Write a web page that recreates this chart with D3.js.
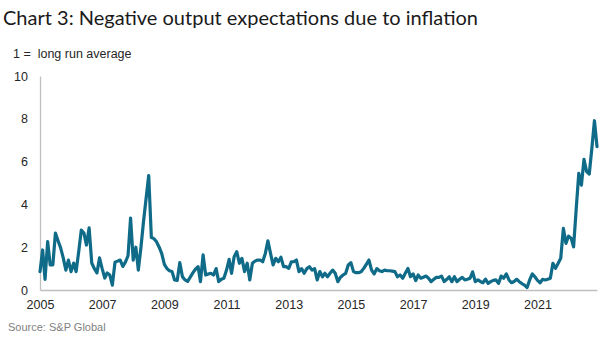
<!DOCTYPE html>
<html>
<head>
<meta charset="utf-8">
<script src="https://cdn.jsdelivr.net/npm/d3@7"></script>
<style>
  body { margin: 0; background: #fff; }
  svg { display: block; }
</style>
</head>
<body>
<svg id="chart" width="606" height="343"></svg>
<script>
// Monthly index, Jan 2005 onward (1 = long run average)
const firstMonth = [2005, 0];
const values = [
  0.86, 1.87, 0.50, 2.26, 1.17, 1.17, 2.66, 2.30, 1.96, 1.50, 0.93, 1.40,
  0.86, 1.26, 0.86, 1.80, 2.80, 2.66, 2.10, 2.90, 1.26, 1.00, 0.80, 1.50,
  1.00, 0.56, 0.80, 0.70, 0.23, 1.30, 1.35, 1.40, 1.10, 1.30, 1.60, 3.36,
  1.40, 2.00, 0.93, 2.00, 3.20, 4.30, 5.35, 2.45, 2.40, 2.25, 2.00, 1.70,
  1.20, 1.00, 0.90, 0.86, 0.47, 0.45, 1.28, 0.62, 0.47, 0.40, 0.60, 0.80,
  0.97, 1.09, 0.39, 1.64, 0.70, 0.75, 0.78, 0.70, 1.00, 0.39, 0.50, 0.55,
  0.93, 1.43, 0.78, 1.56, 1.79, 1.25, 1.48, 0.86, 1.25, 0.47, 1.25, 1.35,
  1.40, 1.40, 1.32, 1.71, 2.30, 1.71, 1.17, 1.48, 1.32, 1.53, 1.09, 1.09,
  1.01, 1.32, 1.32, 1.40, 0.86, 1.00, 0.78, 1.00, 1.09, 0.93, 1.00, 0.47,
  0.86, 0.62, 0.78, 0.62, 0.78, 0.93, 0.78, 0.39, 0.60, 0.70, 0.78, 1.17,
  1.28, 0.86, 0.81, 0.81, 0.85, 1.01, 1.20, 1.40, 0.93, 0.75, 1.00, 0.90,
  0.86, 0.93, 0.90, 0.90, 0.88, 0.86, 0.62, 0.70, 0.55, 0.78, 1.01, 0.62,
  0.75, 0.44, 0.70, 0.55, 0.60, 0.65, 0.55, 0.39, 0.50, 0.59, 0.59, 0.65,
  0.39, 0.50, 0.62, 0.39, 0.62, 0.39, 0.50, 0.59, 0.47, 0.50, 0.55, 0.85,
  0.39, 0.47, 0.40, 0.34, 0.51, 0.31, 0.39, 0.45, 0.47, 0.31, 0.65, 0.55,
  0.75, 0.47, 0.34, 0.40, 0.50, 0.39, 0.30, 0.23, 0.12, 0.47, 0.75, 0.62,
  0.45, 0.34, 0.50, 0.47, 0.50, 0.55, 1.25, 1.01, 1.25, 1.48, 2.88, 2.18,
  2.52, 2.41, 2.02, 3.80, 5.45, 4.90, 6.10, 5.53, 5.42, 6.60, 7.91, 6.70
];
const yTickValues = [0, 2, 4, 6, 8, 10];
const xTickYears = [2005, 2007, 2009, 2011, 2013, 2015, 2017, 2019, 2021];

const titleText = "Chart 3: Negative output expectations due to inflation";
const unitText = "1 =  long run average";
const sourceText = "Source: S&P Global";

const lineColor = "#0f6b88";
const axisColor = "#bfbfbf";
const labelColor = "#262626";

const svg = d3.select("#chart");

const series = values.map((v, i) => ({
  date: d3.timeMonth.offset(new Date(firstMonth[0], firstMonth[1], 1), i),
  value: v
}));

const plot = { left: 40, right: 597, top: 76, bottom: 290 };

const x = d3.scaleTime()
  .domain([series[0].date, series[series.length - 1].date])
  .range([plot.left, plot.right]);

const y = d3.scaleLinear()
  .domain([0, 10])
  .range([plot.bottom, plot.top]);

// Title and notes
svg.append("text")
  .attr("x", 3).attr("y", 25)
  .attr("font-family", "Lato, 'Open Sans', sans-serif")
  .attr("font-size", 20)
  .attr("fill", "#1a1a1a")
  .text(titleText);

svg.append("text")
  .attr("x", 13).attr("y", 58)
  .attr("font-family", "'Liberation Sans', Arial, sans-serif")
  .attr("font-size", 12.5)
  .attr("fill", labelColor)
  .style("white-space", "pre")
  .text(unitText);

svg.append("text")
  .attr("x", 8).attr("y", 331)
  .attr("font-family", "'Liberation Sans', Arial, sans-serif")
  .attr("font-size", 11)
  .attr("fill", "#7f7f7f")
  .text(sourceText);

// Axes
const yAxis = d3.axisLeft(y)
  .tickValues(yTickValues)
  .tickSize(0)
  .tickPadding(12)
  .tickFormat(d3.format("d"));

const gy = svg.append("g")
  .attr("transform", `translate(${plot.left},0)`)
  .call(yAxis);

const xAxis = d3.axisBottom(x)
  .tickValues(xTickYears.map(yr => new Date(yr, 0, 1)))
  .tickSize(0)
  .tickSizeOuter(0)
  .tickPadding(10)
  .tickFormat(d3.timeFormat("%Y"));

const gx = svg.append("g")
  .attr("transform", `translate(0,${plot.bottom})`)
  .call(xAxis);

[gx, gy].forEach(g => {
  g.select(".domain").attr("stroke", axisColor).attr("stroke-width", 1.3);
  g.selectAll("text")
    .attr("font-family", "'Liberation Sans', Arial, sans-serif")
    .attr("font-size", 12.5)
    .attr("fill", labelColor);
});

// Series line
const line = d3.line()
  .x(d => x(d.date))
  .y(d => y(d.value));

svg.append("path")
  .datum(series)
  .attr("fill", "none")
  .attr("stroke", lineColor)
  .attr("stroke-width", 3.2)
  .attr("stroke-linejoin", "round")
  .attr("stroke-linecap", "round")
  .attr("d", line);
</script>
</body>
</html>
